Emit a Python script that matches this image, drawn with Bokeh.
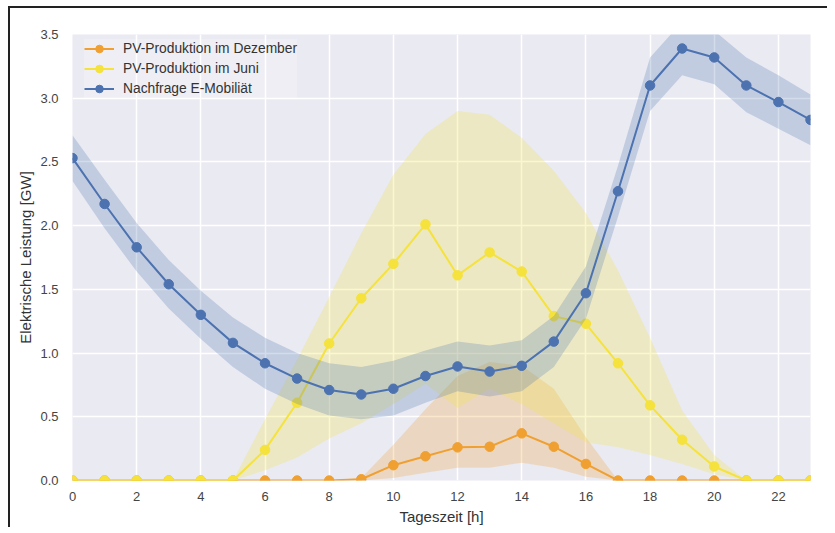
from bokeh.plotting import figure
from bokeh.models import FixedTicker, NumeralTickFormatter, Legend, LegendItem
from bokeh.embed import file_html
from bokeh.resources import INLINE

hours = list(range(24))

dez_mean = [0, 0, 0, 0, 0, 0, 0, 0, 0, 0.01, 0.12, 0.19, 0.26, 0.265, 0.37, 0.265, 0.13, 0, 0, 0, 0, 0, 0, 0]
dez_low = [0, 0, 0, 0, 0, 0, 0, 0, 0, 0.0, 0.02, 0.06, 0.10, 0.10, 0.14, 0.10, 0.03, 0, 0, 0, 0, 0, 0, 0]
dez_high = [0, 0, 0, 0, 0, 0, 0, 0, 0, 0.02, 0.28, 0.56, 0.82, 0.93, 0.90, 0.72, 0.34, 0, 0, 0, 0, 0, 0, 0]

jun_mean = [0, 0, 0, 0, 0, 0, 0.24, 0.61, 1.075, 1.43, 1.70, 2.01, 1.61, 1.79, 1.64, 1.29, 1.23, 0.92, 0.59, 0.32, 0.11, 0, 0, 0]
jun_low = [0, 0, 0, 0, 0, 0, 0.08, 0.18, 0.33, 0.45, 0.60, 0.76, 0.57, 0.72, 0.60, 0.45, 0.30, 0.26, 0.20, 0.13, 0.05, 0, 0, 0]
jun_high = [0, 0, 0, 0, 0, 0, 0.48, 0.95, 1.44, 1.94, 2.40, 2.72, 2.90, 2.87, 2.69, 2.43, 2.10, 1.65, 1.12, 0.55, 0.20, 0, 0, 0]

ev_mean = [2.53, 2.17, 1.83, 1.54, 1.30, 1.08, 0.92, 0.80, 0.71, 0.675, 0.72, 0.82, 0.895, 0.855, 0.90, 1.09, 1.47, 2.27, 3.10, 3.39, 3.32, 3.10, 2.97, 2.83]
ev_high = [2.71, 2.36, 2.02, 1.73, 1.49, 1.28, 1.12, 1.00, 0.92, 0.89, 0.94, 1.02, 1.09, 1.06, 1.10, 1.29, 1.68, 2.47, 3.32, 3.60, 3.53, 3.32, 3.18, 3.03]
ev_low = [2.35, 1.98, 1.64, 1.35, 1.11, 0.89, 0.72, 0.60, 0.51, 0.48, 0.51, 0.61, 0.70, 0.66, 0.70, 0.89, 1.27, 2.07, 2.90, 3.18, 3.11, 2.89, 2.76, 2.63]

labels = ["PV-Produktion im Dezember", "PV-Produktion im Juni", "Nachfrage E-Mobiliät"]
x_ticks = list(range(0, 23, 2))
y_ticks = [0.0, 0.5, 1.0, 1.5, 2.0, 2.5, 3.0, 3.5]

C_ORANGE = "#F0A030"
C_YELLOW = "#F5E23C"
C_BLUE = "#4C72B0"
FONT = "Liberation Sans"

p = figure(frame_width=738, frame_height=446, x_range=(0, 23), y_range=(0, 3.5),
           output_backend="svg", toolbar_location=None,
           min_border_left=72, min_border_top=34, min_border_bottom=45, min_border_right=17)
p.border_fill_alpha = 0
p.styles = {
    "background-color": "white",
    "background-image": "linear-gradient(#222222, #222222), linear-gradient(#222222, #222222)",
    "background-size": "100% 2px, 2px 100%",
    "background-position": "8px 6px, 8px 6px",
    "background-repeat": "no-repeat",
}
p.background_fill_color = "#EAEAF2"
p.outline_line_color = None

p.xgrid.grid_line_color = "white"
p.ygrid.grid_line_color = "white"
p.xgrid.grid_line_width = 1.5
p.ygrid.grid_line_width = 1.5

for ax in (p.xaxis, p.yaxis):
    ax.axis_line_color = None
    ax.major_tick_line_color = None
    ax.minor_tick_line_color = None
    ax.major_label_text_font = FONT
    ax.major_label_text_font_size = "13px"
    ax.major_label_text_color = "#444444"
    ax.axis_label_text_font = FONT
    ax.axis_label_text_font_size = "15px"
    ax.axis_label_text_font_style = "normal"
    ax.axis_label_text_color = "#333333"

p.xaxis.ticker = FixedTicker(ticks=x_ticks)
p.yaxis.ticker = FixedTicker(ticks=y_ticks)
p.yaxis.formatter = NumeralTickFormatter(format="0.0")
p.xaxis.axis_label = "Tageszeit [h]"
p.yaxis.axis_label = "Elektrische Leistung [GW]"
p.xaxis.major_label_standoff = 5
p.yaxis.major_label_standoff = 8
p.xaxis.axis_label_standoff = 4
p.yaxis.axis_label_standoff = 3

items = []
for mean, low, high, col, lab in [
    (dez_mean, dez_low, dez_high, C_ORANGE, labels[0]),
    (jun_mean, jun_low, jun_high, C_YELLOW, labels[1]),
    (ev_mean, ev_low, ev_high, C_BLUE, labels[2]),
]:
    p.varea(x=hours, y1=low, y2=high, fill_color=col, fill_alpha=0.25)
    ln = p.line(hours, mean, line_color=col, line_width=2)
    sc = p.scatter(hours, mean, size=9.5, fill_color=col, line_color=col)
    items.append(LegendItem(label=lab, renderers=[ln, sc]))

legend = Legend(items=items, location=(12, 382))
legend.margin = 0
legend.padding = 4
legend.spacing = 1
legend.label_height = 19
legend.glyph_height = 19
legend.glyph_width = 30
legend.label_standoff = 9
legend.label_text_font = FONT
legend.label_text_font_size = "13.8px"
legend.label_text_color = "#333333"
legend.background_fill_color = "white"
legend.background_fill_alpha = 0.2
legend.border_line_color = None
p.add_layout(legend, "center")

open("out.html", "w").write(file_html(p, INLINE))
